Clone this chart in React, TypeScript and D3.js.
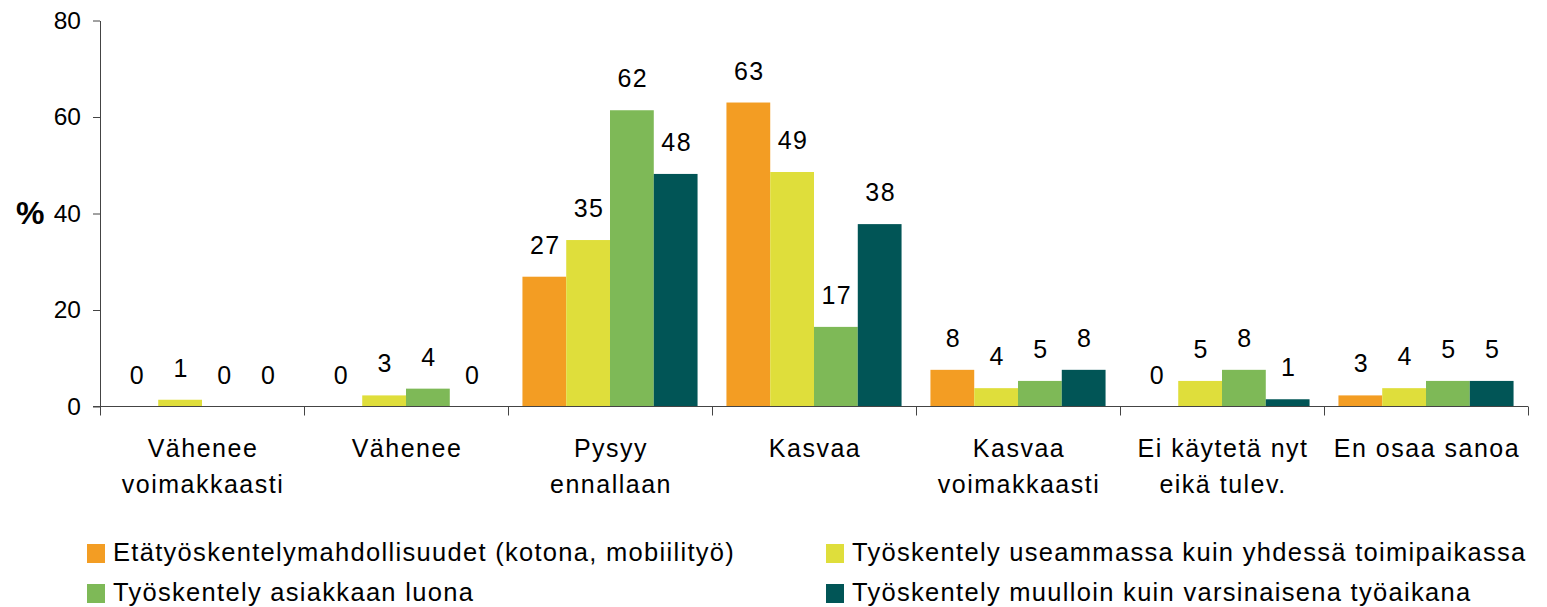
import React, { useEffect, useRef } from 'react';
import * as d3 from 'd3';

// ---- data ----
const categories = [
  ['Vähenee', 'voimakkaasti'],
  ['Vähenee'],
  ['Pysyy', 'ennallaan'],
  ['Kasvaa'],
  ['Kasvaa', 'voimakkaasti'],
  ['Ei käytetä nyt', 'eikä tulev.'],
  ['En osaa sanoa'],
];

const seriesNames = [
  'Etätyöskentelymahdollisuudet (kotona, mobiilityö)',
  'Työskentely useammassa kuin yhdessä toimipaikassa',
  'Työskentely asiakkaan luona',
  'Työskentely muulloin kuin varsinaisena työaikana',
];

// bar heights
const etatyo = [0, 0, 26.9, 63.0, 7.6, 0, 2.3];
const useammassa = [1.4, 2.3, 34.5, 48.6, 3.8, 5.3, 3.8];
const asiakkaan = [0, 3.7, 61.4, 16.5, 5.3, 7.6, 5.3];
const muulloin = [0, 0, 48.2, 37.8, 7.6, 1.5, 5.3];

// printed value labels
const etatyoLabels = [0, 0, 27, 63, 8, 0, 3];
const useammassaLabels = [1, 3, 35, 49, 4, 5, 4];
const asiakkaanLabels = [0, 4, 62, 17, 5, 8, 5];
const muulloinLabels = [0, 0, 48, 38, 8, 1, 5];

const yTicks = [0, 20, 40, 60, 80];

const colors = ['#F39D23', '#DFDE3B', '#7EB957', '#015556'];

export default function App() {
  const ref = useRef<SVGSVGElement>(null);
  const width = 1547;
  const height = 607;
  const margin = { top: 20.5, right: 19, bottom: 200, left: 100 };
  const font = "'Liberation Sans', Arial, Helvetica, sans-serif";

  useEffect(() => {
    const svg = d3.select(ref.current);
    svg.selectAll('*').remove();

    const values = [etatyo, useammassa, asiakkaan, muulloin];
    const labels = [etatyoLabels, useammassaLabels, asiakkaanLabels, muulloinLabels];
    const catIdx = categories.map((_, i) => i);

    const x0 = d3.scaleBand<number>()
      .domain(catIdx)
      .range([margin.left, width - margin.right])
      .padding(0);

    const x1 = d3.scaleBand<number>()
      .domain(d3.range(seriesNames.length))
      .range([0, x0.bandwidth()])
      .paddingInner(0)
      .paddingOuter(0.33);

    const y = d3.scaleLinear()
      .domain([0, 80])
      .range([height - margin.bottom - 0.5, margin.top]);

    // ---- y axis ----
    const yAxis = d3.axisLeft(y)
      .tickValues(yTicks)
      .tickSize(7)
      .tickSizeOuter(0)
      .tickPadding(12);

    const gy = svg.append('g')
      .attr('transform', `translate(${margin.left},0)`)
      .call(yAxis);
    gy.select('.domain').attr('stroke', '#444');
    gy.selectAll('.tick line').attr('stroke', '#444');
    gy.selectAll('.tick text')
      .attr('fill', '#000')
      .style('font-family', font)
      .style('font-size', '24.5px');

    svg.append('text')
      .attr('x', 16)
      .attr('y', 224)
      .attr('font-family', font)
      .attr('font-size', 32)
      .attr('font-weight', 'bold')
      .text('%');

    // ---- bars ----
    const groups = svg.append('g')
      .selectAll('g')
      .data(catIdx)
      .join('g')
      .attr('transform', (d) => `translate(${x0(d)},0)`);

    groups.selectAll('rect')
      .data((c) => values.map((s, si) => ({ si, v: s[c] })))
      .join('rect')
      .attr('x', (d) => x1(d.si)!)
      .attr('y', (d) => y(d.v))
      .attr('width', x1.bandwidth())
      .attr('height', (d) => y(0) - y(d.v))
      .attr('fill', (d) => colors[d.si]);

    groups.selectAll('text')
      .data((c) => values.map((s, si) => ({ si, v: s[c], l: labels[si][c] })))
      .join('text')
      .attr('x', (d) => x1(d.si)! + x1.bandwidth() / 2 + 1)
      .attr('y', (d) => y(d.v) - 23)
      .attr('text-anchor', 'middle')
      .attr('font-family', font)
      .attr('font-size', 25)
      .attr('letter-spacing', 1.5)
      .attr('fill', '#000')
      .text((d) => d.l);

    // ---- x axis ----
    const y0 = y(0);
    svg.append('line')
      .attr('x1', margin.left - 7)
      .attr('x2', width - margin.right)
      .attr('y1', y0)
      .attr('y2', y0)
      .attr('stroke', '#444');

    const bounds = [...catIdx.map((c) => x0(c)!), x0.range()[1]];
    svg.append('g')
      .selectAll('line')
      .data(bounds)
      .join('line')
      .attr('x1', (d) => Math.round(d) + 0.5)
      .attr('x2', (d) => Math.round(d) + 0.5)
      .attr('y1', y0)
      .attr('y2', y0 + 9)
      .attr('stroke', '#444');

    const catText = svg.append('g')
      .selectAll('text')
      .data(catIdx)
      .join('text')
      .attr('text-anchor', 'middle')
      .attr('font-family', font)
      .attr('font-size', 25)
      .attr('letter-spacing', 1.5)
      .attr('fill', '#000');

    catText.selectAll('tspan')
      .data((c) => categories[c].map((line, li) => ({ c, line, li })))
      .join('tspan')
      .attr('x', (d) => x0(d.c)! + x0.bandwidth() / 2 + 1)
      .attr('y', (d) => 457 + d.li * 36)
      .text((d) => d.line);

    // ---- legend ----
    const legendCols = [87, 826];
    const legendRows = [544, 584];
    const legend = svg.append('g')
      .selectAll('g')
      .data(seriesNames.map((name, i) => ({ name, i })))
      .join('g')
      .attr('transform', (d) => `translate(${legendCols[d.i % 2]},${legendRows[Math.floor(d.i / 2)]})`);

    legend.append('rect')
      .attr('width', 18)
      .attr('height', 19)
      .attr('fill', (d) => colors[d.i]);

    legend.append('text')
      .attr('x', 26)
      .attr('y', 17)
      .attr('font-family', font)
      .attr('font-size', 25.5)
      .attr('letter-spacing', 1.3)
      .attr('fill', '#000')
      .text((d) => d.name);
  }, []);

  return (
    <svg
      ref={ref}
      width={width}
      height={height}
      style={{ position: 'absolute', left: 0, top: 0, background: '#fff' }}
    />
  );
}
